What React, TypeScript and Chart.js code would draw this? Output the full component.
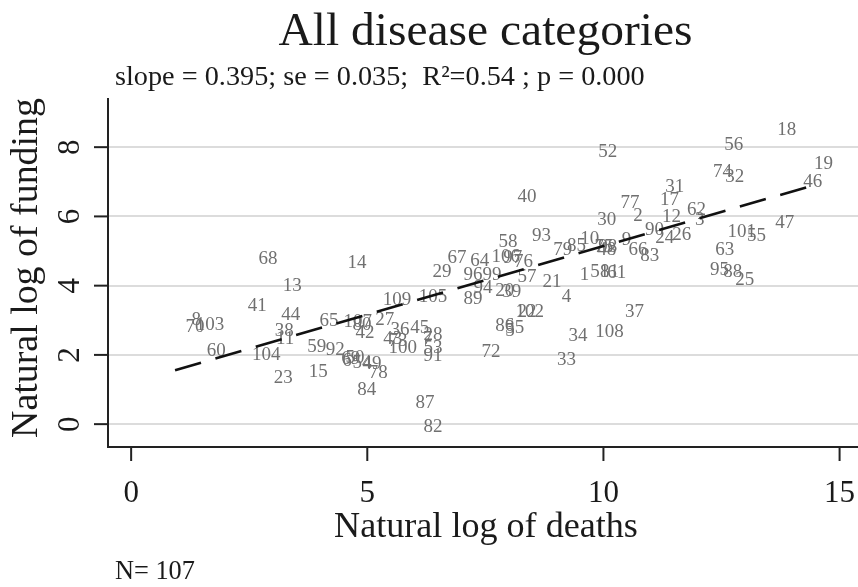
import React, { useEffect, useRef } from "react";
import { Chart, registerables } from "chart.js";
Chart.register(...registerables);

const pointIds = [1,2,3,4,5,6,7,8,9,10,11,12,13,14,15,17,18,19,20,21,22,23,24,25,26,27,28,29,30,31,32,33,34,35,36,37,38,39,40,41,42,43,44,45,46,47,48,49,50,51,52,53,54,55,56,57,58,59,60,61,62,63,64,65,66,67,68,69,70,72,73,74,75,76,77,78,79,80,81,82,83,84,85,86,87,88,89,90,91,92,93,94,95,96,97,98,99,100,101,102,103,104,105,106,107,108,109];

const logDeaths = [9.60,10.73,12.04,9.22,8.02,4.57,6.28,1.38,10.49,9.71,3.26,11.44,3.41,4.78,3.96,11.40,13.88,14.66,7.91,8.91,8.38,3.22,11.30,12.99,11.66,5.37,6.39,6.58,10.07,11.51,12.78,9.22,9.46,8.12,5.69,10.66,3.24,8.06,8.38,2.67,4.95,5.54,3.38,6.11,14.43,13.84,10.07,5.10,4.74,9.92,10.09,6.39,4.89,13.24,12.76,8.38,7.98,3.93,1.80,10.28,11.97,12.57,7.38,4.19,10.73,6.90,2.90,4.65,1.35,7.62,5.65,12.52,10.01,8.31,10.56,5.23,9.14,4.89,10.13,6.39,10.98,4.99,9.43,7.91,6.22,12.74,7.24,11.08,6.39,4.32,8.69,7.45,12.46,7.24,8.08,10.09,7.64,5.75,12.93,8.44,1.67,2.86,6.39,7.93,4.80,10.13,5.63];

const logFunding = [4.31,6.01,5.90,3.67,2.69,1.82,2.46,3.01,5.32,5.35,2.46,5.98,3.99,4.65,1.50,6.47,8.50,7.51,3.84,4.10,3.24,1.33,5.38,4.16,5.46,3.01,2.57,4.39,5.90,6.85,7.14,1.85,2.54,2.77,2.72,3.24,2.69,3.82,6.56,3.41,2.63,2.46,3.15,2.77,6.99,5.81,5.03,1.73,1.91,4.39,7.86,2.20,1.76,5.43,8.06,4.25,5.26,2.23,2.11,4.36,6.18,5.03,4.71,2.98,5.03,4.80,4.77,1.88,2.80,2.08,2.40,7.28,5.12,4.68,6.39,1.47,5.03,2.86,4.39,-0.09,4.86,0.98,5.14,2.83,0.61,4.39,3.61,5.61,1.97,2.14,5.43,3.93,4.45,4.31,4.80,5.12,4.31,2.20,5.55,3.24,2.86,1.99,3.67,4.83,2.95,2.66,3.58];

const fitX = [0.93, 14.45];
const fitY = [1.56, 6.90];

const xTicks = [0, 5, 10, 15];
const yTicks = [0, 2, 4, 6, 8];

const titleText = "All disease categories";
const statsText = "slope = 0.395; se = 0.035;  R\u00B2=0.54 ; p = 0.000";
const xTitle = "Natural log of deaths";
const yTitle = "Natural log of funding";
const noteText = "N= 107";

const SERIF = "'Liberation Serif', 'DejaVu Serif', serif";

function fitSize(ctx: CanvasRenderingContext2D, text: string, target: number) {
  ctx.font = `100px ${SERIF}`;
  const w = ctx.measureText(text).width;
  return (100 * target) / w;
}

const drawPlugin = {
  id: "stataDraw",
  beforeDraw(chart: any) {
    const ctx = chart.ctx as CanvasRenderingContext2D;
    ctx.save();
    ctx.fillStyle = "#ffffff";
    ctx.fillRect(0, 0, chart.width, chart.height);
    ctx.restore();
  },
  beforeDatasetsDraw(chart: any) {
    const ctx = chart.ctx as CanvasRenderingContext2D;
    const ys = chart.scales.y;
    const area = chart.chartArea;
    ctx.save();
    ctx.strokeStyle = "#dcdcdc";
    ctx.lineWidth = 2;
    yTicks.forEach((v) => {
      const py = Math.round(ys.getPixelForValue(v));
      ctx.beginPath();
      ctx.moveTo(area.left, py);
      ctx.lineTo(area.right, py);
      ctx.stroke();
    });
    const meta = chart.getDatasetMeta(0);
    ctx.fillStyle = "#707070";
    ctx.font = `19px ${SERIF}`;
    ctx.textAlign = "center";
    ctx.textBaseline = "middle";
    meta.data.forEach((el: any, i: number) => {
      ctx.fillText(String(pointIds[i]), el.x, el.y);
    });
    ctx.restore();
  },
  afterDraw(chart: any) {
    const ctx = chart.ctx as CanvasRenderingContext2D;
    const xs = chart.scales.x;
    const ys = chart.scales.y;
    const area = chart.chartArea;
    ctx.save();
    ctx.strokeStyle = "#222";
    ctx.lineWidth = 2;
    ctx.beginPath();
    ctx.moveTo(area.left, area.top);
    ctx.lineTo(area.left, area.bottom);
    ctx.lineTo(area.right, area.bottom);
    ctx.stroke();
    yTicks.forEach((v) => {
      const py = ys.getPixelForValue(v);
      ctx.beginPath();
      ctx.moveTo(area.left - 14, py);
      ctx.lineTo(area.left, py);
      ctx.stroke();
    });
    xTicks.forEach((v) => {
      const px = xs.getPixelForValue(v);
      ctx.beginPath();
      ctx.moveTo(px, area.bottom);
      ctx.lineTo(px, area.bottom + 14);
      ctx.stroke();
    });
    ctx.fillStyle = "#1a1a1a";
    ctx.font = `31px ${SERIF}`;
    ctx.textAlign = "center";
    ctx.textBaseline = "alphabetic";
    xTicks.forEach((v) => {
      ctx.fillText(String(v), xs.getPixelForValue(v), 502);
    });
    yTicks.forEach((v) => {
      const py = ys.getPixelForValue(v);
      ctx.save();
      ctx.translate(79, py);
      ctx.rotate(-Math.PI / 2);
      ctx.textAlign = "center";
      ctx.fillText(String(v), 0, 0);
      ctx.restore();
    });
    let s = fitSize(ctx, titleText, 414);
    ctx.font = `${s}px ${SERIF}`;
    ctx.textAlign = "center";
    ctx.fillText(titleText, 485.5, 45);
    s = fitSize(ctx, statsText, 530);
    ctx.font = `${s}px ${SERIF}`;
    ctx.textAlign = "left";
    ctx.fillText(statsText, 115, 85);
    s = fitSize(ctx, xTitle, 304);
    ctx.font = `${s}px ${SERIF}`;
    ctx.textAlign = "center";
    ctx.fillText(xTitle, 486, 537);
    s = fitSize(ctx, yTitle, 340);
    ctx.font = `${s}px ${SERIF}`;
    ctx.save();
    ctx.translate(37, 268);
    ctx.rotate(-Math.PI / 2);
    ctx.textAlign = "center";
    ctx.fillText(yTitle, 0, 0);
    ctx.restore();
    s = fitSize(ctx, noteText, 80);
    ctx.font = `${s}px ${SERIF}`;
    ctx.textAlign = "left";
    ctx.fillText(noteText, 115, 579);
    ctx.restore();
  },
};

export default function App() {
  const canvasRef = useRef<HTMLCanvasElement | null>(null);

  useEffect(() => {
    const canvas = canvasRef.current;
    if (!canvas) return;
    const pts = logDeaths.map((x, i) => ({ x, y: logFunding[i] }));
    const fit = fitX.map((x, i) => ({ x, y: fitY[i] }));
    const chart = new Chart(canvas, {
      type: "scatter",
      data: {
        datasets: [
          {
            label: "categories",
            data: pts,
            pointRadius: 0,
            pointHoverRadius: 0,
            showLine: false,
          },
          {
            label: "fit",
            type: "line" as any,
            data: fit,
            borderColor: "#111",
            borderWidth: 2.6,
            borderDash: [27, 15],
            pointRadius: 0,
            fill: false,
          } as any,
        ],
      },
      options: {
        animation: false,
        responsive: false,
        maintainAspectRatio: false,
        events: [],
        layout: { padding: { top: 98, right: 0, left: 0, bottom: 0 } },
        plugins: {
          legend: { display: false },
          tooltip: { enabled: false },
          title: { display: false },
        },
        scales: {
          x: {
            type: "linear",
            min: -0.49,
            max: 15.39,
            grid: { display: false },
            border: { display: false },
            ticks: { display: false },
            afterFit: (sc: any) => {
              sc.height = 140;
            },
          },
          y: {
            type: "linear",
            min: -0.66,
            max: 9.42,
            grid: { display: false },
            border: { display: false },
            ticks: { display: false },
            afterFit: (sc: any) => {
              sc.width = 108;
            },
          },
        },
      },
      plugins: [drawPlugin],
    });
    return () => chart.destroy();
  }, []);

  return (
    <div style={{ position: "fixed", left: 0, top: 0, width: 858, height: 587, background: "#fff" }}>
      <canvas ref={canvasRef} width={858} height={587} style={{ display: "block", width: 858, height: 587 }} />
    </div>
  );
}
